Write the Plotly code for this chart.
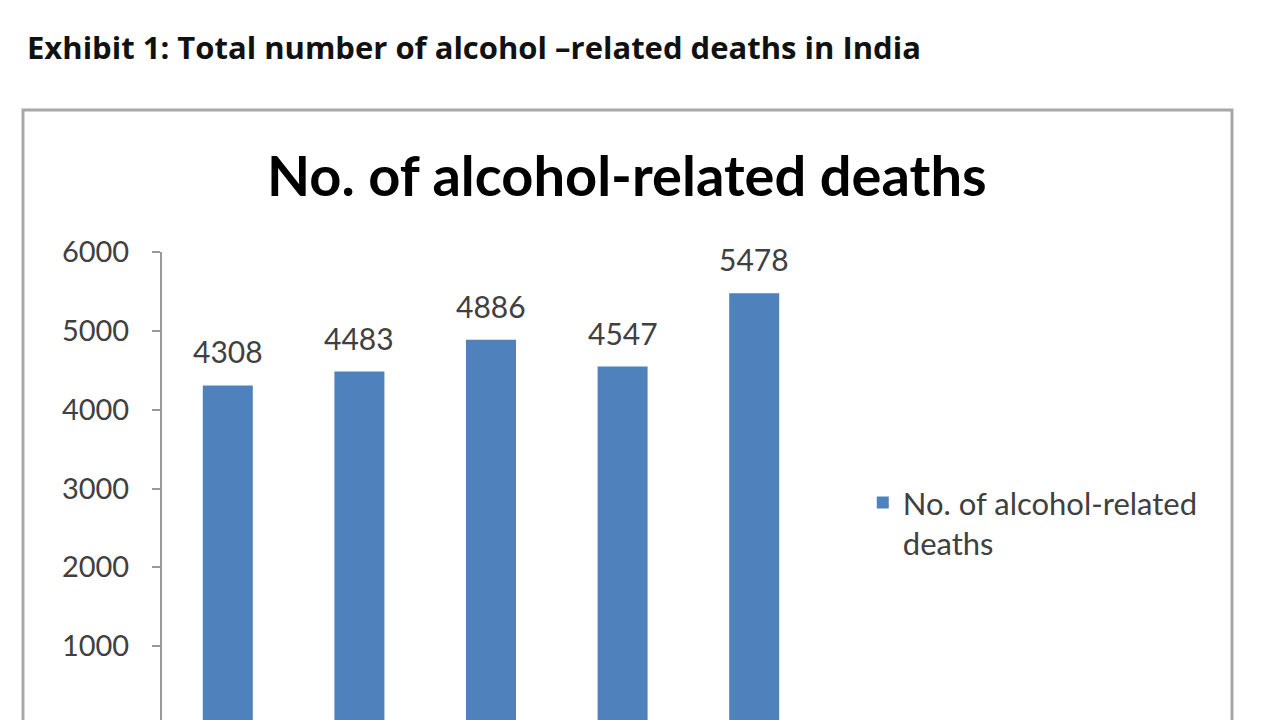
import plotly.graph_objects as go

categories = ["2006", "2007", "2008", "2009", "2010"]
deaths = [4308, 4483, 4886, 4547, 5478]
y_ticks = [0, 1000, 2000, 3000, 4000, 5000, 6000]
series_name = "No. of alcohol-related<br>deaths"
chart_title = "No. of alcohol-related deaths"
header = "Exhibit 1: Total number of alcohol \u2013related deaths in India"

FONT = "Lato, Carlito, Calibri, sans-serif"
BAR = "#4F81BD"

fig = go.Figure()
fig.add_trace(go.Bar(
    x=categories, y=deaths, name=series_name,
    marker=dict(color=BAR, line=dict(width=0)),
))

# value labels above bars (category axis: position by category index)
for i, v in enumerate(deaths):
    fig.add_annotation(x=i, y=v, text=str(v), showarrow=False,
                       xanchor="center", yanchor="bottom", yshift=14,
                       font=dict(family=FONT, size=30, color="#404040"))

# plot area: x 162..820, y 252 (6000) .. 725 (0); page bottom at 720
px_per_unit = (725 - 252) / 6000.0
y_bottom = (725 - 720) / px_per_unit

fig.update_layout(
    width=1280, height=720,
    margin=dict(l=162, r=460, t=252, b=0),
    paper_bgcolor="white", plot_bgcolor="white",
    bargap=0.62,
    showlegend=True,
    legend=dict(x=1.065, y=0.421, xanchor="left", yanchor="middle", valign="top",
                font=dict(family=FONT, size=31, color="#404040"),
                itemwidth=30, bgcolor="rgba(0,0,0,0)"),
    xaxis=dict(type="category", range=[-0.5, len(categories) - 0.5],
               showticklabels=False, showline=False, ticks="", showgrid=False),
    yaxis=dict(range=[y_bottom, 6000], tickvals=y_ticks,
               showgrid=False, showline=True, linecolor="#999999", linewidth=2,
               ticks="outside", ticklen=8, tickcolor="#999999", tickwidth=2,
               ticklabelstandoff=17,
               tickfont=dict(family=FONT, size=29, color="#404040")),
    shapes=[dict(type="rect", xref="paper", yref="paper",
                 x0=(23 - 162) / 658.0, x1=(1232 - 162) / 658.0,
                 y0=-0.2, y1=(720 - 110) / 468.0,
                 line=dict(color="#a8a8a8", width=3), fillcolor="rgba(0,0,0,0)",
                 layer="below")],
)
fig.add_annotation(text="<b>" + chart_title + "</b>", xref="paper", yref="paper",
                   x=(627 - 162) / 658.0, y=(720 - 175) / 468.0, xanchor="center", yanchor="middle",
                   showarrow=False, font=dict(family=FONT, size=56, color="#000000"))
fig.add_annotation(text="<b>" + header + "</b>", xref="paper", yref="paper",
                   x=(25 - 162) / 658.0, y=(720 - 47) / 468.0, xanchor="left", yanchor="middle",
                   showarrow=False, font=dict(family="Open Sans, sans-serif", size=31, color="#111111"))

fig.write_html("out.html")
